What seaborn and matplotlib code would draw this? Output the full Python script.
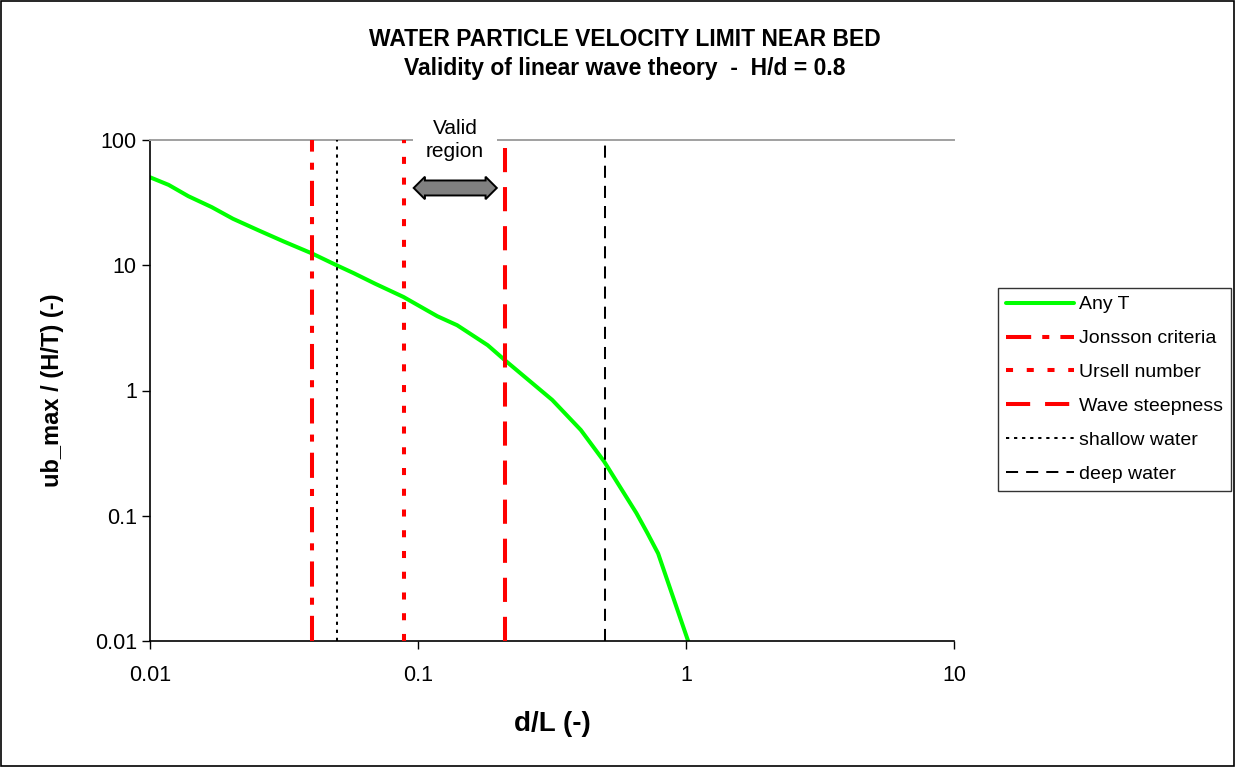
import numpy as np
import pandas as pd
import matplotlib
matplotlib.use("Agg")
import matplotlib.pyplot as plt
import matplotlib.ticker as mticker
from matplotlib.patches import Rectangle
import seaborn as sns

# ---- data ----
d_over_L = [0.01, 0.01174, 0.0139, 0.0170, 0.0204, 0.0254, 0.0315, 0.0403, 0.0492,
            0.0574, 0.0691, 0.0883, 0.118, 0.140, 0.182, 0.212, 0.317, 0.405,
            0.495, 0.653, 0.717, 0.787, 1.02]
ub_ratio = [50.4, 43.8, 35.6, 29.1, 23.5, 19.0, 15.5, 12.4, 10.1,
            8.67, 7.13, 5.58, 3.92, 3.32, 2.30, 1.73, 0.84, 0.484,
            0.271, 0.105, 0.073, 0.050, 0.0099]

limit_names = ["Jonsson criteria", "Ursell number", "Wave steepness",
               "shallow water", "deep water"]
limit_values = [0.0401, 0.0886, 0.212, 0.05, 0.5]

x_ticks = [0.01, 0.1, 1, 10]
x_tick_labels = ["0.01", "0.1", "1", "10"]
y_ticks = [0.01, 0.1, 1, 10, 100]
y_tick_labels = ["0.01", "0.1", "1", "10", "100"]

title_line1 = "WATER PARTICLE VELOCITY LIMIT NEAR BED"
title_line2 = "Validity of linear wave theory  -  H/d = 0.8"
x_label = "d/L (-)"
y_label = "ub_max / (H/T) (-)"
series_label = "Any T"
valid_text = "Valid\nregion"
valid_x = 0.1374
arrow_y = 41.4

# ---- styles ----
sns.set_style("white")
plt.rcParams["font.family"] = ["Liberation Sans", "DejaVu Sans"]
for key in ["text.color", "axes.labelcolor", "xtick.color", "ytick.color"]:
    plt.rcParams[key] = "black"

limit_styles = {
    "Jonsson criteria": dict(color="#FF0000", lw=2.9, dashes=(6.25, 2.75, 1.75, 2.75)),
    "Ursell number": dict(color="#FF0000", lw=2.9, dashes=(1.75, 3.4)),
    "Wave steepness": dict(color="#FF0000", lw=2.9, dashes=(6.0, 3.7)),
    "shallow water": dict(color="black", lw=1.45, dashes=(1.6, 2.4)),
    "deep water": dict(color="black", lw=1.45, dashes=(6.0, 4.0)),
}

fig = plt.figure(figsize=(12.35, 7.67), dpi=100)
ax = fig.add_axes([150 / 1235, 1 - 641 / 767, (954 - 150) / 1235, (641 - 140) / 767])

df = pd.DataFrame({"d/L": d_over_L, "u": ub_ratio})
sns.lineplot(data=df, x="d/L", y="u", ax=ax, color="#00FF00", lw=2.9,
             label=series_label, sort=False, estimator=None)

for name, val in zip(limit_names, limit_values):
    st = limit_styles[name]
    ax.axvline(val, color=st["color"], lw=st["lw"], linestyle=(0, st["dashes"]),
               label=name, zorder=3)

ax.set_xscale("log")
ax.set_yscale("log")
ax.set_xlim(0.01, 10)
ax.set_ylim(0.01, 100)
ax.set_xticks(x_ticks)
ax.set_xticklabels(x_tick_labels)
ax.set_yticks(y_ticks)
ax.set_yticklabels(y_tick_labels)
ax.xaxis.set_minor_locator(mticker.NullLocator())
ax.yaxis.set_minor_locator(mticker.NullLocator())
ax.tick_params(axis="both", which="major", direction="out", length=6, width=1,
               color="black", labelsize=15.5, bottom=True, left=True)
ax.tick_params(axis="x", pad=11)
ax.tick_params(axis="y", pad=3.5)
ax.grid(False)

for side in ["left", "bottom"]:
    ax.spines[side].set_color("black")
    ax.spines[side].set_linewidth(1.2)
ax.spines["top"].set_color("#A0A0A0")
ax.spines["top"].set_linewidth(1.4)
ax.spines["right"].set_visible(False)

ax.set_xlabel(x_label, fontsize=20, fontweight="bold")
ax.xaxis.set_label_coords(0.5, (641 - 711) / 501)
ax.set_ylabel(y_label, fontsize=17, fontweight="bold")
ax.yaxis.set_label_coords((64 - 150) / 804, 0.5)

# Valid region annotation
ax.text(valid_x, 1.0, valid_text, transform=ax.get_xaxis_transform(),
        ha="center", va="center", fontsize=15, linespacing=1.3,
        bbox=dict(boxstyle="square,pad=0.6", fc="white", ec="none"),
        zorder=5, clip_on=False)
ax.text(valid_x, arrow_y, " " * 23, ha="center", va="center", fontsize=7.5,
        bbox=dict(boxstyle="darrow,pad=0.24", fc="#808080", ec="black", lw=1.4),
        zorder=4)

# Titles
fig.text(625 / 1235, 1 - 39 / 767, title_line1, ha="center", va="center",
         fontsize=16.5, fontweight="bold")
fig.text(625 / 1235, 1 - 69 / 767, title_line2, ha="center", va="center",
         fontsize=16.5, fontweight="bold")

# Legend
leg = ax.legend(loc="upper left", bbox_to_anchor=(998 / 1235, 1 - 288 / 767),
                bbox_transform=fig.transFigure, frameon=True, fancybox=False,
                fontsize=14, labelspacing=0.84, handlelength=3.5,
                handletextpad=0.26, borderpad=0.4, borderaxespad=0)
leg.get_frame().set_edgecolor("black")
leg.get_frame().set_linewidth(1.0)

# Figure border
fig.patches.append(Rectangle((0.001, 0.001), 0.998, 0.998, transform=fig.transFigure,
                             fill=False, ec="black", lw=1.2))

fig.savefig("out.png", dpi=100)
